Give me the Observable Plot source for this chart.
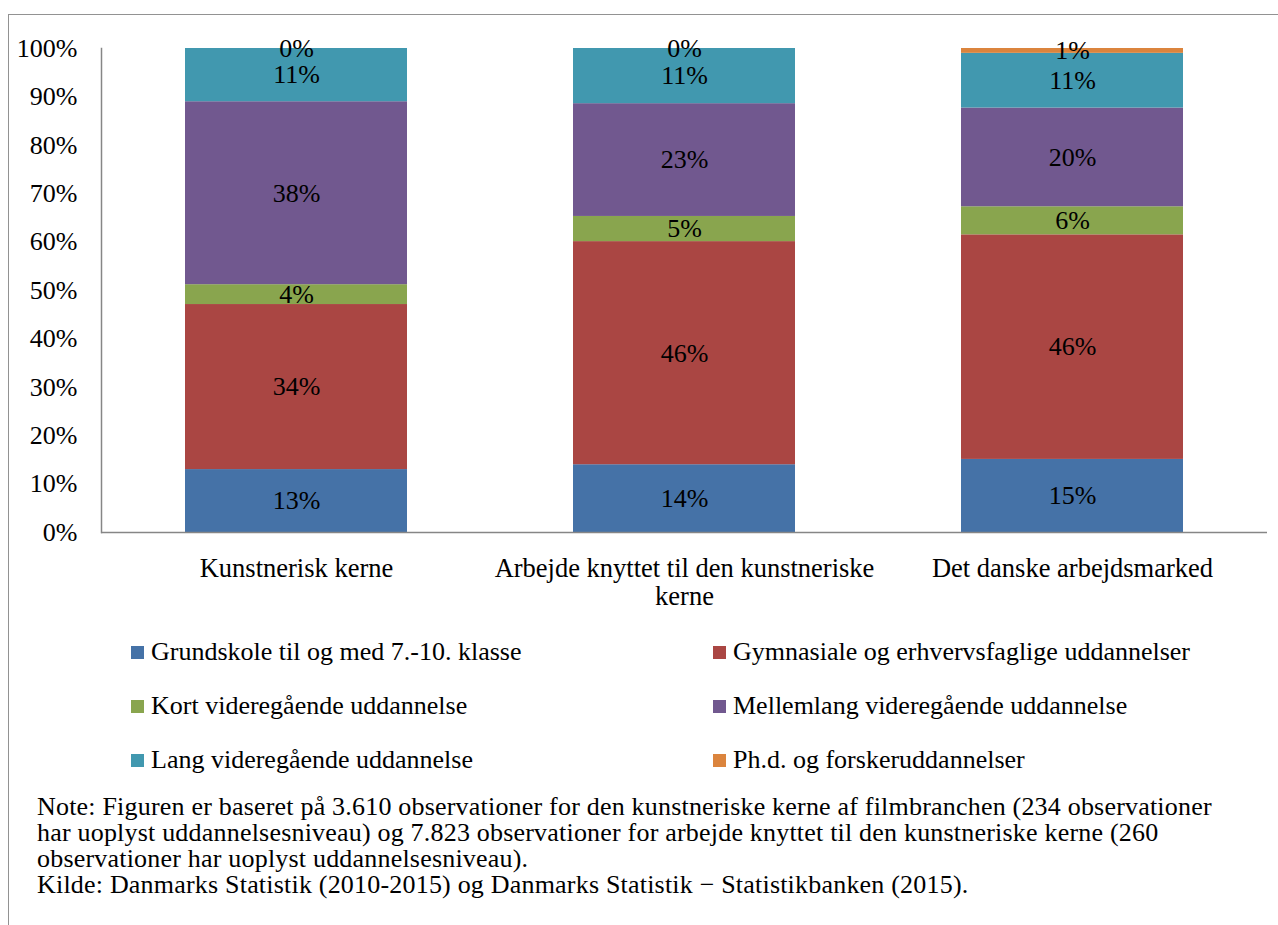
<!DOCTYPE html>
<html>
<head>
<meta charset="utf-8">
<script src="https://cdn.jsdelivr.net/npm/d3@7"></script>
<script src="https://cdn.jsdelivr.net/npm/@observablehq/plot@0.6"></script>
<style>
  html, body { margin: 0; padding: 0; background: #fff; }
  body { width: 1278px; height: 925px; position: relative; overflow: hidden; color: #000; font-family: 'Liberation Serif', serif; }
  #chart { position: absolute; left: 0; top: 0; }
  #frame { position: absolute; left: 8px; top: 14px; width: 1290px; height: 930px; border-left: 1.5px solid #929292; border-top: 1.5px solid #929292; pointer-events: none; }
  .leg { position: absolute; font-size: 26px; line-height: 1; white-space: nowrap; }
  .leg .sw { position: absolute; left: 0; top: 50%; width: 13px; height: 13px; margin-top: -7px; }
  .leg .lt { position: absolute; left: 20px; top: 50%; transform: translateY(-52%); }
  #note { position: absolute; left: 37px; top: 794px; font-size: 26px; letter-spacing: 0.2px; line-height: 26px; white-space: nowrap; }
</style>
</head>
<body>
<div id="chart"></div>
<div id="legend"></div>
<div id="note"></div>
<div id="frame"></div>
<script>
// ---- data ----
const categories = ["Kunstnerisk kerne", "Arbejde knyttet til den kunstneriske kerne", "Det danske arbejdsmarked"];
const categoryLabels = ["Kunstnerisk kerne", "Arbejde knyttet til den kunstneriske\nkerne", "Det danske arbejdsmarked"];
const series = [
  "Grundskole til og med 7.-10. klasse",
  "Gymnasiale og erhvervsfaglige uddannelser",
  "Kort videregående uddannelse",
  "Mellemlang videregående uddannelse",
  "Lang videregående uddannelse",
  "Ph.d. og forskeruddannelser"
];
const grundskole = [13.0, 14.0, 15.1];
const gymnasiale = [34.1, 46.1, 46.4];
const kortVideregaaende = [4.1, 5.2, 5.8];
const mellemlang = [37.8, 23.3, 20.4];
const langVideregaaende = [11.0, 11.4, 11.3];
const phd = [0.0, 0.0, 1.0];
const colors = ["#4572A7", "#AA4643", "#89A54E", "#71588F", "#4198AF", "#DB843D"];
const yTicks = [0, 10, 20, 30, 40, 50, 60, 70, 80, 90, 100];
const noteLines = [
  "Note: Figuren er baseret på 3.610 observationer for den kunstneriske kerne af filmbranchen (234 observationer",
  "har uoplyst uddannelsesniveau) og 7.823 observationer for arbejde knyttet til den kunstneriske kerne (260",
  "observationer har uoplyst uddannelsesniveau).",
  "Kilde: Danmarks Statistik (2010-2015) og Danmarks Statistik − Statistikbanken (2015)."
];

// ---- build table ----
const seriesValues = [grundskole, gymnasiale, kortVideregaaende, mellemlang, langVideregaaende, phd];
const data = [];
series.forEach((s, si) => {
  categories.forEach((c, ci) => {
    data.push({category: c, series: s, value: seriesValues[si][ci]});
  });
});
const labelOf = new Map(categories.map((c, i) => [c, categoryLabels[i]]));

const FONT = "'Liberation Serif', serif";

const plot = Plot.plot({
  width: 1278,
  height: 620,
  marginLeft: 101,
  marginRight: 11,
  marginTop: 48,
  marginBottom: 88,
  style: {fontFamily: FONT, fontSize: "26px", color: "#000", background: "transparent"},
  x: {domain: categories, paddingInner: 0.429, paddingOuter: 0.2145, label: null},
  y: {domain: [0, 100], label: null},
  color: {domain: series, range: colors},
  marks: [
    Plot.barY(data, {x: "category", y: "value", fill: "series", z: "series", order: series}),
    Plot.text(data, Plot.stackY({x: "category", y: "value", z: "series", order: series, text: d => Math.round(d.value) + "%", fontSize: 26, fontFamily: FONT, fill: "#000"})),
    Plot.axisY({ticks: yTicks, tickSize: 0, tickPadding: 24, tickFormat: d => d + "%", fontSize: 26, fontFamily: FONT, fill: "#000", label: null}),
    Plot.axisX({tickSize: 0, tickPadding: 24, tickFormat: d => labelOf.get(d), fontSize: 26.5, fontFamily: FONT, lineHeight: 1.08, fill: "#000", label: null}),
    Plot.frame({anchor: "left", stroke: "#868686", strokeWidth: 1.5}),
    Plot.ruleY([0], {stroke: "#868686", strokeWidth: 1.5})
  ]
});
document.getElementById("chart").appendChild(plot);

// ---- legend ----
const legend = document.getElementById("legend");
const legPos = [
  {x: 131, y: 653}, {x: 713, y: 653},
  {x: 131, y: 707}, {x: 713, y: 707},
  {x: 131, y: 761}, {x: 713, y: 761}
];
series.forEach((s, i) => {
  const item = document.createElement("div");
  item.className = "leg";
  item.style.left = legPos[i].x + "px";
  item.style.top = (legPos[i].y - 15) + "px";
  item.style.height = "30px";
  item.style.width = "560px";
  const sw = document.createElement("span");
  sw.className = "sw";
  sw.style.background = colors[i];
  const lt = document.createElement("span");
  lt.className = "lt";
  lt.textContent = s;
  item.appendChild(sw);
  item.appendChild(lt);
  legend.appendChild(item);
});

// ---- note ----
const note = document.getElementById("note");
noteLines.forEach(line => {
  const d = document.createElement("div");
  d.textContent = line;
  note.appendChild(d);
});
</script>
</body>
</html>
